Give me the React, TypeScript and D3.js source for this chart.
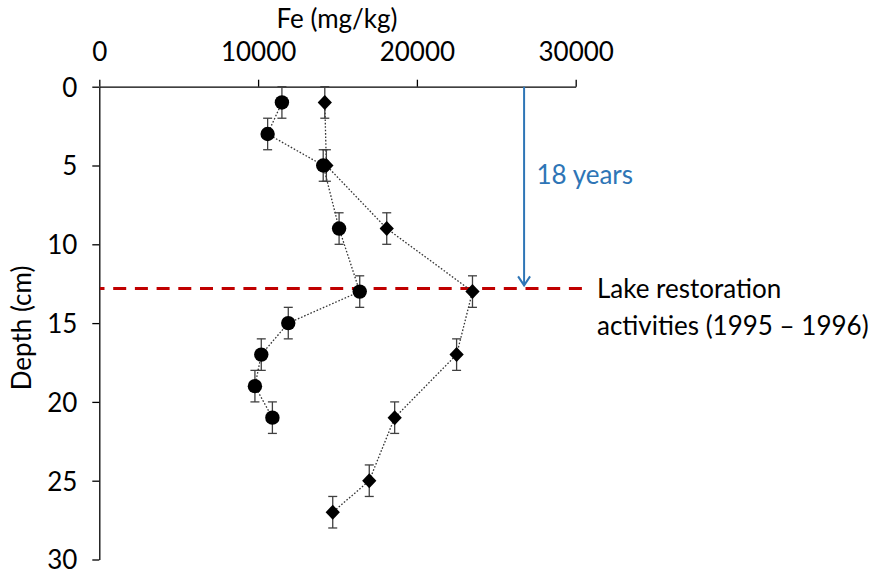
import React, { useEffect, useRef } from "react";
import * as d3 from "d3";

// Sediment core depth (cm) and Fe concentration (mg/kg)
const circleDepths = [1, 3, 5, 9, 13, 15, 17, 19, 21];
const circleFe = [11500, 10600, 14100, 15100, 16400, 11900, 10200, 9800, 10900];

const diamondDepths = [1, 5, 9, 13, 17, 21, 25, 27];
const diamondFe = [14200, 14300, 18100, 23500, 22500, 18600, 17000, 14700];

// Vertical error (cm) for each sample slice
const depthError = 1;

const xTicks = [0, 10000, 20000, 30000];
const yTicks = [0, 5, 10, 15, 20, 25, 30];

const restorationDepth = 12.8;
const arrowFe = 26750;

const W = 875;
const H = 574;
const FONT = "Lato, 'Open Sans', sans-serif";
const FS = 26;

export default function App() {
  const ref = useRef<SVGSVGElement | null>(null);

  useEffect(() => {
    const svg = d3.select(ref.current);
    svg.selectAll("*").remove();

    const x = d3.scaleLinear().domain([0, 30000]).range([99.3, 575.7]);
    const y = d3.scaleLinear().domain([0, 30]).range([86.7, 559.5]);

    // Axes
    const xAxis = svg
      .append("g")
      .attr("transform", `translate(0,${y(0)})`)
      .call(d3.axisTop(x).tickValues(xTicks).tickSize(7).tickSizeOuter(0).tickFormat(d3.format("d")));
    xAxis.select(".domain").attr("stroke", "#000").attr("stroke-width", 1.3);
    xAxis.selectAll(".tick line").attr("stroke", "#000").attr("stroke-width", 1.3);
    xAxis
      .selectAll(".tick text")
      .attr("font-family", FONT)
      .attr("font-size", FS)
      .attr("fill", "#000")
      .attr("y", -25.7)
      .attr("dy", 0);

    const yAxis = svg
      .append("g")
      .attr("transform", `translate(${x(0)},0)`)
      .call(d3.axisLeft(y).tickValues(yTicks).tickSize(7).tickSizeOuter(0));
    yAxis.select(".domain").attr("stroke", "#000").attr("stroke-width", 1.3);
    yAxis.selectAll(".tick line").attr("stroke", "#000").attr("stroke-width", 1.3);
    yAxis
      .selectAll(".tick text")
      .attr("font-family", FONT)
      .attr("font-size", FS)
      .attr("fill", "#000")
      .attr("x", -22)
      .attr("dy", "0.36em");

    // Axis titles
    svg
      .append("text")
      .attr("x", 337)
      .attr("y", 28)
      .attr("text-anchor", "middle")
      .attr("font-family", FONT)
      .attr("font-size", FS)
      .text("Fe (mg/kg)");
    svg
      .append("text")
      .attr("transform", `translate(31,328) rotate(-90)`)
      .attr("text-anchor", "middle")
      .attr("font-family", FONT)
      .attr("font-size", FS)
      .text("Depth (cm)");

    // Restoration marker line
    svg
      .append("line")
      .attr("x1", x(0) + 0.7)
      .attr("x2", 583.5)
      .attr("y1", y(restorationDepth))
      .attr("y2", y(restorationDepth))
      .attr("stroke", "#C00000")
      .attr("stroke-width", 3)
      .attr("stroke-dasharray", "13 8.7")
      .attr("stroke-dashoffset", 8.5);

    // Series
    const series = [
      { depths: circleDepths, fe: circleFe, shape: "circle" },
      { depths: diamondDepths, fe: diamondFe, shape: "diamond" },
    ];

    const line = d3
      .line<[number, number]>()
      .x((d) => x(d[1]))
      .y((d) => y(d[0]));

    series.forEach((s) => {
      const pts: [number, number][] = s.depths.map((d, i) => [d, s.fe[i]]);
      const g = svg.append("g");

      g.append("path")
        .attr("d", line(pts))
        .attr("fill", "none")
        .attr("stroke", "#333")
        .attr("stroke-width", 1.3)
        .attr("stroke-dasharray", "1.6 1.8");

      // Error bars
      pts.forEach(([dep, fe]) => {
        const cx = x(fe);
        const y1 = y(dep - depthError);
        const y2 = y(dep + depthError);
        g.append("line").attr("x1", cx).attr("x2", cx).attr("y1", y1).attr("y2", y2).attr("stroke", "#404040").attr("stroke-width", 1.3);
        [y1, y2].forEach((yy) =>
          g.append("line").attr("x1", cx - 4.5).attr("x2", cx + 4.5).attr("y1", yy).attr("y2", yy).attr("stroke", "#404040").attr("stroke-width", 1.3)
        );
      });

      // Markers
      pts.forEach(([dep, fe]) => {
        const cx = x(fe);
        const cy = y(dep);
        if (s.shape === "circle") {
          g.append("circle").attr("cx", cx).attr("cy", cy).attr("r", 7.2).attr("fill", "#000");
        } else {
          const r = 7.5;
          g.append("path")
            .attr("d", `M${cx},${cy - r}L${cx + r * 0.95},${cy}L${cx},${cy + r}L${cx - r * 0.95},${cy}Z`)
            .attr("fill", "#000");
        }
      });
    });

    // Time arrow
    const ax = x(arrowFe);
    const tipY = y(restorationDepth) - 3;
    svg
      .append("line")
      .attr("x1", ax)
      .attr("x2", ax)
      .attr("y1", y(0))
      .attr("y2", tipY)
      .attr("stroke", "#2E75B6")
      .attr("stroke-width", 2);
    svg
      .append("path")
      .attr("d", `M${ax - 6},${tipY - 9}L${ax},${tipY}L${ax + 6},${tipY - 9}`)
      .attr("fill", "none")
      .attr("stroke", "#2E75B6")
      .attr("stroke-width", 2);
    svg
      .append("text")
      .attr("x", 536.5)
      .attr("y", 184)
      .attr("font-family", FONT)
      .attr("font-size", FS)
      .attr("fill", "#2E75B6")
      .text("18 years");

    // Annotation
    const ann = svg.append("text").attr("font-family", FONT).attr("font-size", FS).attr("fill", "#000");
    ann.append("tspan").attr("x", 597).attr("y", 298).text("Lake restoration");
    ann.append("tspan").attr("x", 597).attr("y", 334.5).text("activities (1995 \u2013 1996)");
  }, []);

  return (
    <div style={{ position: "absolute", left: 0, top: 0, width: W, height: H, background: "#fff" }}>
      <svg ref={ref} width={W} height={H} style={{ display: "block" }} />
    </div>
  );
}
